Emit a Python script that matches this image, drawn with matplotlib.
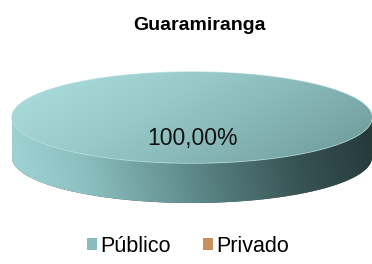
import matplotlib
matplotlib.use('Agg')
import matplotlib.pyplot as plt
from matplotlib.colors import LinearSegmentedColormap
from matplotlib.path import Path
from matplotlib.patches import PathPatch
import numpy as np

plt.rcParams['font.family'] = ['Liberation Sans', 'DejaVu Sans']

# dados
titulo = 'Guaramiranga'
categorias = ['Público', 'Privado']
valores = [100.0, 0.0]
cores = ['#88bcbd', '#c8915c']

W, H = 372, 264
fig = plt.figure(figsize=(W / 100, H / 100), dpi=100)
fig.patch.set_facecolor('white')

# eixo do disco (elipse: x 12..372, topo 72, base 203)
t = 0.88  # espessura em raios verticais
ax = fig.add_axes([12 / W, (H - 203) / H, 360 / W, 131 / H])
ax.set_xlim(-1, 1)
ax.set_ylim(-1 - t, 1)
ax.set_aspect('auto')
ax.axis('off')

# face inferior (lateral)
ax.pie(valores, colors=['#3a5556', '#6a4a30'], startangle=90, radius=1,
       center=(0, -t), wedgeprops=dict(linewidth=0))
ax.set_xlim(-1, 1)
ax.set_ylim(-1 - t, 1)

th = np.linspace(0, np.pi, 100)
top = np.column_stack([np.cos(th), np.sin(th)])
bot = np.column_stack([np.cos(th + np.pi), np.sin(th + np.pi) - t])
verts = np.vstack([top, bot, top[:1]])
casco = PathPatch(Path(verts, closed=True), facecolor='none', edgecolor='none')
ax.add_patch(casco)

lado = LinearSegmentedColormap.from_list('lado', [
    (0.0, '#a2d6d6'), (0.2, '#8cc0c0'), (0.5, '#5a8485'),
    (0.75, '#385354'), (1.0, '#233537')])
gx = np.linspace(0, 1, 256)
gy = np.linspace(0, 1, 64)
GX, GY = np.meshgrid(gx, gy)
img = ax.imshow(GX * 0.92 + GY * 0.08, cmap=lado, extent=(-1, 1, -1 - t, 1),
                origin='lower', aspect='auto', zorder=1, interpolation='bilinear')
img.set_clip_path(casco)

# face superior
wedges, textos, autotextos = ax.pie(
    valores, colors=cores, startangle=90, radius=1, center=(0, 0),
    autopct=lambda p: (f'{p:.2f}%'.replace('.', ',') if p > 0 else ''),
    pctdistance=0.46, wedgeprops=dict(linewidth=1.0, edgecolor='#bfe4e4'),
    textprops=dict(fontsize=16.5, color='#111111'))
ax.set_xlim(-1, 1)
ax.set_ylim(-1 - t, 1)
for w in wedges:
    w.set_zorder(2)

topo = LinearSegmentedColormap.from_list('topo', [
    (0.0, '#aee0df'), (0.4, '#97c9c9'), (0.75, '#7fadae'), (1.0, '#6a9597')])
tx = np.linspace(0, 1, 256)
ty = np.linspace(0, 1, 128)
TX, TY = np.meshgrid(tx, ty)
img2 = ax.imshow(0.7 * TX + 0.3 * (1 - TY), cmap=topo, extent=(-1, 1, -1, 1),
                 origin='lower', aspect='auto', zorder=3, interpolation='bilinear')
img2.set_clip_path(wedges[0])
for a in autotextos:
    a.set_zorder(5)

# título
fig.text(199 / W, 1 - 25 / H, titulo, ha='center', va='center',
         fontsize=14, fontweight='bold')

# legenda
leg = fig.legend(wedges, categorias, loc='center', ncol=2,
                 bbox_to_anchor=(188 / W, 1 - 246 / H), frameon=False,
                 fontsize=15.5, handlelength=0.45, handleheight=0.45,
                 handletextpad=0.15, columnspacing=1.5)
for h in leg.legend_handles:
    h.set_edgecolor('none')

fig.savefig('out.png', dpi=100, facecolor='white')
